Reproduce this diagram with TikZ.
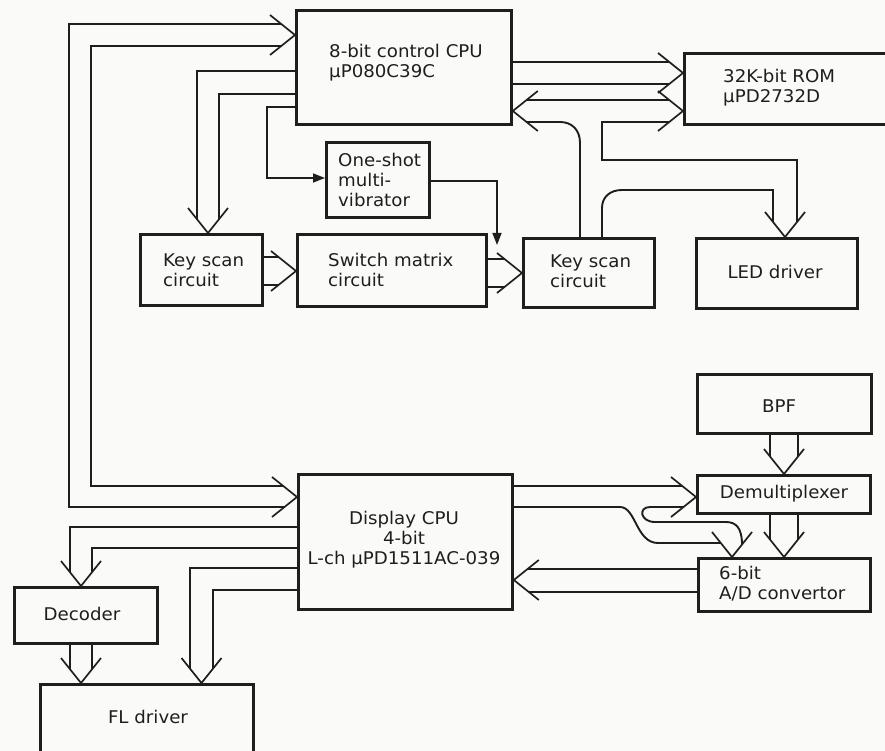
\documentclass[tikz,border=0pt]{standalone}
\usepackage{fontspec}
\setmainfont{DejaVu Sans}[FakeStretch=1.04]
\usetikzlibrary{calc,arrows.meta}
\definecolor{ink}{RGB}{30,30,30}
\definecolor{paper}{RGB}{250,250,248}
\newcommand\veeR[1]{\draw[vee] ($(#1)+(-25,-20)$) -- (#1) -- ($(#1)+(-25,20)$);}
\newcommand\veeL[1]{\draw[vee] ($(#1)+(25,-20)$) -- (#1) -- ($(#1)+(25,20)$);}
\newcommand\veeD[1]{\draw[vee] ($(#1)+(-20,-25)$) -- (#1) -- ($(#1)+(20,-25)$);}
\begin{document}
\begin{tikzpicture}[x=1pt,y=-1pt,
  blk/.style={draw=ink, line width=2.8pt, anchor=north west, inner sep=0pt},
  txt/.style={text=ink, font=\fontsize{17.5}{20}\selectfont, inner sep=0pt, align=left},
  ctxt/.style={txt, align=center},
  wire/.style={draw=ink, line width=1.5pt},
  curvewire/.style={draw=ink, line width=1.9pt},
  vee/.style={draw=ink, line width=1.7pt, line join=miter},
  tri/.style={wire, -{Triangle[length=12pt,width=9pt]}}
]
\fill[paper] (0,0) rectangle (885,751);
\useasboundingbox (0,0) rectangle (885,751);

% ---- blocks
\node[blk, minimum width=215pt, minimum height=114pt] (cpu8) at (295,9) {};
\node[blk, minimum width=212pt, minimum height=71pt] (rom) at (683,52) {};
\node[blk, minimum width=103pt, minimum height=75pt] (oneshot) at (325,141) {};
\node[blk, minimum width=122pt, minimum height=71pt] (ksl) at (139,233) {};
\node[blk, minimum width=189pt, minimum height=72pt] (swm) at (296,233) {};
\node[blk, minimum width=131pt, minimum height=69pt] (ksr) at (522,237) {};
\node[blk, minimum width=161pt, minimum height=70pt] (led) at (695,237) {};
\node[blk, minimum width=174pt, minimum height=59pt] (bpf) at (696,373) {};
\node[blk, minimum width=214pt, minimum height=135pt] (disp) at (297,473) {};
\node[blk, minimum width=173pt, minimum height=38pt] (demux) at (696,474) {};
\node[blk, minimum width=172pt, minimum height=53pt] (adc) at (697,557) {};
\node[blk, minimum width=143pt, minimum height=56pt] (dec) at (13,586) {};
\node[blk, minimum width=213pt, minimum height=80pt] (fl) at (39,683) {};

% ---- texts
\node[txt, anchor=west] (cpu8t) at (329,63) {8-bit control CPU\\μP080C39C};
\node[txt, anchor=west] (romt) at (723,87.5) {32K-bit ROM\\μPD2732D};
\node[txt, anchor=west] (oneshott) at (338,180) {One-shot\\multi-\\vibrator};
\node[txt, anchor=west] (kslt) at (163,270) {Key scan\\circuit};
\node[txt, anchor=west] (swmt) at (328,270) {Switch matrix\\circuit};
\node[txt, anchor=west] (ksrt) at (550,271) {Key scan\\circuit};
\node[ctxt] (ledt) at (775,272) {LED driver};
\node[ctxt] (bpft) at (779,406) {BPF};
\node[ctxt] (dispt) at (404,540) {Display CPU\\4-bit\\L-ch μPD1511AC-039};
\node[ctxt] (demuxt) at (784,494) {Demultiplexer};
\node[txt, anchor=west] (adct) at (719,583.5) {6-bit\\A/D convertor};
\node[ctxt] (dect) at (82,614) {Decoder};
\node[ctxt] (flt) at (148,717) {FL driver};

% ---- arrow tips
\coordinate (tA) at (cpu8.west |- 0,35);
\coordinate (tB) at (disp.west |- 0,497);
\coordinate (tC) at (ksl.north -| 208,0);
\coordinate (tD) at (swm.west |- 0,271);
\coordinate (tE) at (ksr.west |- 0,273);
\coordinate (tF) at (rom.west |- 0,73);
\coordinate (tG) at (rom.west |- 0,111);
\coordinate (tH) at (cpu8.east |- 0,111);
\coordinate (tI) at (led.north -| 785,0);
\coordinate (tJ) at (dec.north -| 81,0);
\coordinate (tK) at (fl.north -| 201.5,0);
\coordinate (tL) at (fl.north -| 81,0);
\coordinate (tM) at (demux.north -| 784,0);
\coordinate (tN) at (adc.north -| 784,0);
\coordinate (tO) at (adc.north -| 732,0);
\coordinate (tP) at (demux.west |- 0,497);
\coordinate (tQ) at (disp.east |- 0,580);

% ---- connectors
% 8-bit CPU <-> Display CPU
\draw[wire] ($(tA)+(-14,-11)$) -- (69,24) -- (69,507) -- ($(tB)+(-12.5,10)$);
\draw[wire] ($(tA)+(-14,11)$) -- (91,46) -- (91,486) -- ($(tB)+(-14,-11)$);
% 8-bit CPU -> key scan (left)
\draw[wire] (cpu8.west |- 0,71) -- (197,71) -- ($(tC)+(-11,-14)$);
\draw[wire] (cpu8.west |- 0,94) -- (219,94) -- ($(tC)+(11,-14)$);
% 8-bit CPU -> one-shot
\draw[tri] (cpu8.west |- 0,107) -- (267,107) -- (267,178) -- (oneshot.west |- 0,178);
% one-shot -> key scan (right)
\draw[tri] (oneshot.east |- 0,181) -- (497,181) -- (497,245);
% key scan (left) -> switch matrix
\draw[wire] (ksl.east |- 0,257) -- ($(tD)+(-17.5,-14)$);
\draw[wire] (ksl.east |- 0,285) -- ($(tD)+(-17.5,14)$);
% switch matrix -> key scan (right)
\draw[wire] (swm.east |- 0,259) -- ($(tE)+(-17.5,-14)$);
\draw[wire] (swm.east |- 0,287) -- ($(tE)+(-17.5,14)$);
% 8-bit CPU -> ROM
\draw[wire] (cpu8.east |- 0,62) -- ($(tF)+(-14,-11)$);
\draw[wire] (cpu8.east |- 0,84) -- ($(tF)+(-14,11)$);
\draw[wire] ($(tH)+(14,-11)$) -- ($(tG)+(-14,-11)$);
% key scan (right) -> 8-bit CPU
\draw[wire] ($(tH)+(14,11)$) -- (561,122);
\draw[curvewire] (560,122) .. controls (572,122) and (580,130) .. (580,143);
\draw[wire] (580,142) -- (ksr.north -| 580,0);
% ROM / key scan -> LED driver
\draw[wire] ($(tG)+(-14,11)$) -- (602,122) -- (602,160) -- (797,160) -- ($(tI)+(12,-15)$);
\draw[wire] (ksr.north -| 602,0) -- (602,207);
\draw[curvewire] (602,208) .. controls (602,197) and (610,190) .. (622,190);
\draw[wire] (621,190) -- (773,190) -- ($(tI)+(-12,-15)$);
% Display CPU -> decoder
\draw[wire] (disp.west |- 0,527) -- (70,527) -- ($(tJ)+(-11,-14)$);
\draw[wire] (disp.west |- 0,548) -- (92,548) -- ($(tJ)+(11,-14)$);
% Display CPU -> FL driver
\draw[wire] (disp.west |- 0,568) -- (190,568) -- ($(tK)+(-11.5,-14.5)$);
\draw[wire] (disp.west |- 0,590) -- (213,590) -- ($(tK)+(11.5,-14.5)$);
% decoder -> FL driver
\draw[wire] (dec.south -| 70,0) -- ($(tL)+(-11,-14)$);
\draw[wire] (dec.south -| 92,0) -- ($(tL)+(11,-14)$);
% BPF -> demultiplexer -> A/D
\draw[wire] (bpf.south -| 770,0) -- ($(tM)+(-14,-17.5)$);
\draw[wire] (bpf.south -| 798,0) -- ($(tM)+(14,-17.5)$);
\draw[wire] (demux.south -| 770,0) -- ($(tN)+(-14,-17.5)$);
\draw[wire] (demux.south -| 798,0) -- ($(tN)+(14,-17.5)$);
% Display CPU -> demultiplexer / A/D
\draw[wire] (disp.east |- 0,486) -- ($(tP)+(-14,-11)$);
\draw[wire] ($(tP)+(-12.5,10)$) -- (649,507);
\draw[curvewire] (650,507) .. controls (638,507) and (640,522) .. (655,522);
\draw[wire] (654,522) -- (727,522);
\draw[curvewire] (726,522) .. controls (736,522) and (742,528) .. (742,544.5);
\draw[wire] (disp.east |- 0,507) -- (621,507);
\draw[curvewire] (620,507) .. controls (636,507) and (636,543) .. (658,543);
\draw[wire] (657,543) -- ($(tO)+(-11.2,-14)$);
% A/D -> Display CPU
\draw[wire] (adc.west |- 0,569) -- ($(tQ)+(14,-11)$);
\draw[wire] (adc.west |- 0,592) -- ($(tQ)+(15,12)$);

% ---- open bus arrowheads
\veeR{tA}
\veeR{tB}
\veeD{tC}
\veeR{tD}
\veeR{tE}
\veeR{tF}
\veeR{tG}
\veeL{tH}
\veeD{tI}
\veeD{tJ}
\veeD{tK}
\veeD{tL}
\veeD{tM}
\veeD{tN}
\veeD{tO}
\veeR{tP}
\veeL{tQ}
\end{tikzpicture}
\end{document}
